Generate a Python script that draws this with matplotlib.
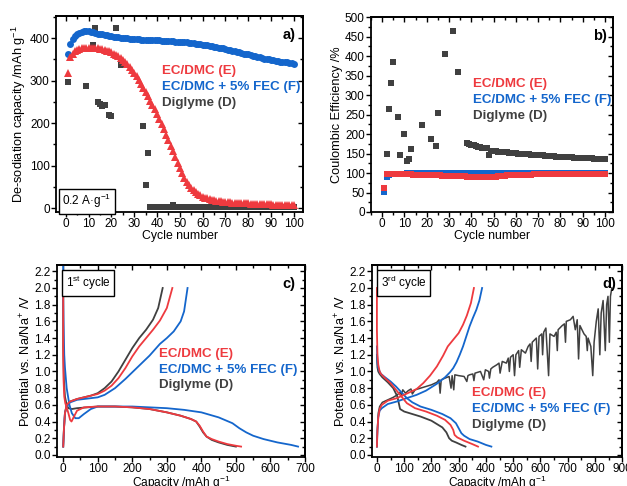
import numpy as np
import matplotlib
matplotlib.use("Agg")
import matplotlib.pyplot as plt
from matplotlib.ticker import MultipleLocator

plt.rcParams['font.family'] = ['Liberation Sans', 'DejaVu Sans']
plt.rcParams['mathtext.default'] = 'regular'

RED = '#ee3a3f'
BLUE = '#1466cc'
GREY = '#404040'

# ---- a) de-sodiation capacity vs cycle ----
cycles = list(range(1, 101))
cap_E = [319, 355, 364, 370, 373, 375, 376, 377, 378, 378,
         378, 378, 377, 376, 375, 374, 372, 371, 369, 367,
         364, 361, 358, 354, 349, 344, 339, 333, 326, 318,
         310, 301, 292, 283, 273, 263, 253, 243, 233, 222,
         210, 198, 186, 173, 160, 147, 134, 121, 107, 95,
         83, 72, 62, 54, 47, 42, 37, 33, 30, 27,
         25, 23, 21, 20, 19, 18, 17, 16, 15, 15,
         14, 14, 13, 13, 12, 12, 12, 11, 11, 11,
         10, 10, 10, 10, 10, 9, 9, 9, 9, 9,
         8, 8, 8, 8, 8, 8, 7, 7, 7, 7]
cap_F = [362, 387, 399, 406, 410, 413, 415, 416, 416, 416,
         415, 414, 413, 411, 410, 409, 408, 407, 406, 405,
         404, 403, 402, 401, 401, 400, 400, 399, 399, 398,
         398, 398, 397, 397, 397, 396, 396, 396, 395, 395,
         395, 394, 394, 394, 393, 393, 393, 392, 392, 391,
         391, 390, 390, 389, 389, 388, 387, 387, 386, 385,
         384, 383, 382, 381, 380, 379, 378, 377, 376, 375,
         373, 372, 371, 370, 368, 367, 366, 364, 363, 362,
         360, 359, 358, 356, 355, 354, 352, 351, 350, 349,
         348, 347, 346, 345, 344, 344, 343, 342, 341, 340]
cyc_D = [1, 9, 12, 13, 14, 15, 16, 17, 19, 20, 22, 24, 34, 35, 36,
         37, 38, 39, 40, 41, 42, 43, 44, 45, 46, 47, 48, 49, 50,
         51, 52, 53, 54, 55, 56, 57, 58, 59, 60, 61, 62, 63, 64, 65,
         66, 67, 68, 69, 70, 71, 72, 73, 74, 75, 76, 77, 78, 79, 80,
         81, 82, 83, 84, 85, 86, 87, 88, 89, 90, 91, 92, 93, 94, 95,
         96, 97, 98, 99, 100]
cap_D = [296, 287, 383, 423, 250, 245, 240, 242, 219, 216, 425, 337, 194, 54, 131,
         2, 2, 2, 2, 2, 2, 2, 2, 2, 2, 8, 2, 2, 2,
         2, 2, 2, 2, 2, 2, 2, 2, 2, 2, 2, 2, 2, 2, 2,
         2, 2, 2, 2, 2, 2, 2, 2, 2, 2, 2, 2, 2, 2, 2,
         2, 2, 2, 2, 2, 2, 2, 2, 2, 2, 2, 2, 2, 2, 2,
         2, 2, 2, 2, 2]

# ---- b) coulombic efficiency vs cycle ----
ce_E = [62, 97, 98, 98, 98, 98, 98, 98, 98, 97,
        97, 97, 97, 96, 96, 96, 96, 96, 95, 95,
        95, 95, 94, 94, 94, 94, 93, 93, 93, 93,
        93, 92, 92, 92, 92, 92, 92, 91, 91, 91,
        91, 91, 91, 91, 91, 91, 91, 91, 91, 91,
        91, 92, 92, 93, 93, 94, 94, 95, 95, 95,
        96, 96, 96, 96, 96, 96, 96, 97, 97, 97,
        97, 97, 97, 97, 97, 97, 97, 97, 97, 97,
        97, 97, 97, 97, 97, 97, 97, 97, 97, 97,
        97, 97, 97, 97, 97, 97, 97, 97, 97, 97]
ce_F = [52, 91, 95, 97, 97, 97, 98, 98, 98, 98,
        99, 99, 99, 99, 99, 99, 99, 99, 99, 99,
        99, 99, 99, 99, 99, 99, 99, 99, 99, 99,
        99, 99, 99, 99, 101, 99, 99, 99, 99, 99,
        99, 99, 99, 99, 99, 99, 99, 99, 99, 99,
        99, 99, 99, 99, 99, 99, 99, 99, 99, 99,
        99, 99, 99, 99, 99, 99, 99, 99, 99, 99,
        99, 99, 99, 99, 99, 99, 99, 99, 99, 99,
        99, 99, 99, 99, 99, 99, 99, 99, 99, 99,
        99, 99, 99, 99, 99, 99, 99, 99, 99, 99]
cyc_ce_D = [2, 3, 4, 5, 7, 8, 10, 11, 12, 13, 18, 22, 24, 25, 28, 32, 34,
            38, 39, 40, 41, 42, 43, 44, 45, 46, 47, 48, 49, 50,
            51, 52, 53, 54, 55, 56, 57, 58, 59, 60, 61, 62, 63, 64, 65,
            66, 67, 68, 69, 70, 71, 72, 73, 74, 75, 76, 77, 78, 79, 80,
            81, 82, 83, 84, 85, 86, 87, 88, 89, 90, 91, 92, 93, 94, 95,
            96, 97, 98, 99, 100]
ce_D = [148, 264, 331, 384, 243, 146, 200, 132, 136, 161, 223, 186, 170, 255, 405, 464, 360,
        176, 175, 173, 171, 170, 168, 166, 165, 164, 163, 147, 157, 157,
        156, 155, 155, 154, 153, 153, 152, 152, 151, 151, 150, 150, 149, 149, 148,
        148, 147, 147, 146, 146, 145, 145, 144, 144, 143, 143, 143, 142, 142, 141,
        141, 141, 140, 140, 140, 139, 139, 139, 139, 138, 138, 138, 138, 138, 137,
        137, 137, 137, 137, 137]

# ---- c) 1st cycle voltage profiles ----
c1_E_dis_x = [0, 0, 1, 3, 6, 10, 15, 20, 24, 30, 40, 60, 100, 150, 200, 250, 300, 340,
              370, 385, 395, 405, 415, 430, 450, 475, 500, 515]
c1_E_dis_y = [2.0, 1.2, 0.9, 0.7, 0.62, 0.57, 0.5, 0.42, 0.40, 0.45, 0.53, 0.57, 0.58,
              0.58, 0.57, 0.55, 0.51, 0.47, 0.43, 0.40, 0.35, 0.28, 0.22, 0.19, 0.16,
              0.13, 0.11, 0.10]
c1_E_ch_x = [0, 2, 5, 10, 20, 40, 60, 80, 100, 120, 140, 160, 180, 200, 220, 240, 260,
             280, 300, 316]
c1_E_ch_y = [0.1, 0.3, 0.5, 0.6, 0.64, 0.67, 0.69, 0.71, 0.73, 0.77, 0.83, 0.92, 1.04,
             1.18, 1.30, 1.40, 1.50, 1.61, 1.76, 2.0]
c1_F_dis_x = [0, 0, 1, 3, 5, 10, 18, 25, 35, 45, 60, 80, 100, 150, 200, 300, 350, 400,
              450, 490, 510, 530, 550, 580, 620, 660, 680]
c1_F_dis_y = [2.3, 1.9, 1.6, 1.2, 1.05, 0.8, 0.6, 0.5, 0.44, 0.44, 0.49, 0.55, 0.58,
              0.58, 0.58, 0.56, 0.54, 0.51, 0.45, 0.38, 0.32, 0.27, 0.23, 0.19, 0.15,
              0.12, 0.10]
c1_F_ch_x = [0, 2, 5, 10, 20, 40, 60, 80, 100, 120, 150, 180, 200, 220, 250, 280, 300,
             320, 340, 350, 360]
c1_F_ch_y = [0.1, 0.3, 0.5, 0.58, 0.63, 0.66, 0.67, 0.68, 0.69, 0.72, 0.8, 0.91, 0.99,
             1.07, 1.19, 1.33, 1.40, 1.48, 1.60, 1.72, 2.0]
c1_D_dis_x = [0, 0, 2, 5, 10, 15, 25, 40, 70, 100, 150, 200, 250, 300, 340, 370, 385,
              395, 405, 415, 430, 450, 475, 500]
c1_D_dis_y = [2.0, 1.3, 0.9, 0.7, 0.6, 0.56, 0.55, 0.56, 0.57, 0.58, 0.58, 0.57, 0.55,
              0.51, 0.47, 0.43, 0.40, 0.34, 0.27, 0.22, 0.18, 0.15, 0.12, 0.10]
c1_D_ch_x = [0, 2, 5, 10, 20, 40, 60, 80, 100, 120, 140, 160, 180, 200, 220, 240, 260,
             275, 288]
c1_D_ch_y = [0.1, 0.3, 0.5, 0.6, 0.64, 0.67, 0.69, 0.71, 0.74, 0.8, 0.88, 1.0, 1.14,
             1.28, 1.4, 1.5, 1.62, 1.76, 2.0]

# ---- d) 3rd cycle voltage profiles ----
c3_E_dis_x = [0, 0, 2, 5, 10, 15, 30, 50, 70, 90, 110, 140, 180, 220, 250, 270, 280,
              285, 295, 320, 350, 371]
c3_E_dis_y = [2.0, 1.5, 1.2, 1.08, 1.0, 0.97, 0.92, 0.86, 0.78, 0.7, 0.62, 0.56, 0.52,
              0.47, 0.42, 0.36, 0.30, 0.24, 0.21, 0.17, 0.13, 0.10]
c3_E_ch_x = [0, 2, 5, 10, 18, 40, 73, 100, 146, 170, 195, 220, 243, 260, 280, 300, 316,
             330, 345, 356]
c3_E_ch_y = [0.1, 0.3, 0.45, 0.55, 0.6, 0.65, 0.68, 0.72, 0.79, 0.86, 0.95, 1.06, 1.19,
             1.3, 1.38, 1.46, 1.56, 1.67, 1.82, 2.0]
c3_F_dis_x = [0, 2, 5, 10, 15, 30, 50, 70, 90, 110, 130, 160, 200, 240, 270, 290, 300,
              310, 320, 340, 370, 400, 420]
c3_F_dis_y = [1.3, 1.1, 1.04, 1.0, 0.97, 0.93, 0.88, 0.82, 0.75, 0.68, 0.63, 0.58, 0.54,
              0.49, 0.44, 0.38, 0.32, 0.26, 0.23, 0.19, 0.16, 0.12, 0.10]
c3_F_ch_x = [0, 2, 5, 10, 18, 40, 73, 100, 146, 180, 219, 250, 268, 280, 292, 304, 316,
             328, 340, 352, 365, 376, 386]
c3_F_ch_y = [0.1, 0.3, 0.45, 0.53, 0.56, 0.61, 0.64, 0.67, 0.72, 0.77, 0.85, 0.93, 0.99,
             1.04, 1.11, 1.2, 1.3, 1.42, 1.54, 1.64, 1.74, 1.85, 2.0]
c3_D_dis_x = [0, 2, 5, 10, 20, 40, 60, 75, 85, 100, 130, 160, 200, 240, 255, 265, 275,
              290, 310, 325]
c3_D_dis_y = [1.2, 1.05, 1.0, 0.97, 0.93, 0.87, 0.8, 0.7, 0.55, 0.52, 0.49, 0.46, 0.41,
              0.33, 0.27, 0.2, 0.17, 0.15, 0.12, 0.10]
# Diglyme charge in the 3rd cycle is very noisy: many sharp drops
c3_D_ch_x = [0, 2, 5, 10, 20, 40, 60, 75, 85, 90, 95, 105, 115, 125, 130, 140, 160, 180,
             200, 220, 228, 232, 236, 250, 265, 272, 276, 282, 286, 300, 320, 330, 334,
             340, 352, 356, 360, 380, 392, 398, 410, 413, 418, 425, 440, 448, 452, 460,
             475, 482, 486, 490, 500, 505, 510, 520, 524, 530, 545, 555, 562, 566, 570,
             585, 590, 595, 605, 608, 612, 620, 630, 635, 650, 658, 662, 665, 680, 688,
             692, 695, 710, 720, 728, 735, 740, 745, 760, 768, 772, 775, 785, 792, 797,
             805, 812, 818, 823, 830, 838, 843, 848, 853, 857, 862]
c3_D_ch_y = [0.1, 0.3, 0.5, 0.58, 0.63, 0.66, 0.69, 0.72, 0.75, 0.72, 0.78, 0.74, 0.77,
             0.79, 0.73, 0.78, 0.8, 0.82, 0.84, 0.87, 0.9, 0.74, 0.9, 0.92, 0.94, 0.8,
             0.95, 0.78, 0.96, 0.95, 0.94, 0.88, 0.95, 0.96, 0.97, 0.89, 0.98, 1.0, 0.9,
             1.02, 1.0, 0.92, 1.03, 1.05, 1.08, 1.1, 0.98, 1.12, 1.1, 1.16, 1.0, 1.17,
             1.2, 0.95, 1.2, 1.25, 1.05, 1.26, 1.22, 1.3, 1.33, 1.12, 1.35, 1.4, 1.03,
             1.42, 1.45, 1.2, 1.47, 1.52, 0.95, 1.45, 1.42, 1.47, 1.25, 1.5, 1.55, 1.57,
             1.35, 1.6, 1.62, 1.66, 1.5, 1.62, 1.15, 1.55, 1.45, 1.42, 1.25, 1.4, 1.3,
             0.95, 1.35, 1.6, 1.75, 1.2, 1.7, 1.85, 1.25, 1.8, 1.9, 1.35, 1.9, 2.0]

labels = ['EC/DMC (E)', 'EC/DMC + 5% FEC (F)', 'Diglyme (D)']
colors = [RED, BLUE, GREY]

fig = plt.figure(figsize=(6.27, 4.86), dpi=100)
ax_a = fig.add_axes([0.0893, 0.5638, 0.394, 0.403])
ax_b = fig.add_axes([0.5917, 0.5638, 0.386, 0.401])
ax_c = fig.add_axes([0.0909, 0.0605, 0.3955, 0.395])
ax_d = fig.add_axes([0.5933, 0.0605, 0.399, 0.395])


def style(ax, xmaj, ymaj):
    ax.xaxis.set_major_locator(MultipleLocator(xmaj))
    ax.xaxis.set_minor_locator(MultipleLocator(xmaj / 2))
    ax.yaxis.set_major_locator(MultipleLocator(ymaj))
    ax.yaxis.set_minor_locator(MultipleLocator(ymaj / 2))
    ax.tick_params(which='both', direction='out', top=False, right=False,
                   labelsize=8.5, width=1.0, pad=1)
    ax.tick_params(which='major', length=3.5)
    ax.tick_params(which='minor', length=2)
    for s in ax.spines.values():
        s.set_linewidth(1.3)
    sec = ax.secondary_xaxis('top')
    sec.tick_params(which='both', direction='in', labeltop=False, width=1.0)
    sec.tick_params(which='major', length=3.5)
    sec.tick_params(which='minor', length=2)
    sec.xaxis.set_major_locator(MultipleLocator(xmaj))
    sec.xaxis.set_minor_locator(MultipleLocator(xmaj / 2))
    sec.spines['top'].set_linewidth(1.3)
    sey = ax.secondary_yaxis('right')
    sey.tick_params(which='both', direction='in', labelright=False, width=1.0)
    sey.tick_params(which='major', length=3.5)
    sey.tick_params(which='minor', length=2)
    sey.yaxis.set_major_locator(MultipleLocator(ymaj))
    sey.yaxis.set_minor_locator(MultipleLocator(ymaj / 2))
    sey.spines['right'].set_linewidth(1.3)


def legend_text(ax, x, y, dy):
    for i, (lab, col) in enumerate(zip(labels, colors)):
        ax.text(x, y - i * dy, lab, color=col, fontsize=9.6, fontweight='bold',
                transform=ax.transAxes, va='center', ha='left')


# a)
ax = ax_a
ax.plot(cyc_D, cap_D, 's', color=GREY, ms=4.8, mew=0)
ax.plot(cycles, cap_F, 'o', color=BLUE, ms=5.0, mew=0)
ax.plot(cycles, cap_E, '^', color=RED, ms=5.4, mew=0)
ax.set_xlim(-4.3, 104)
ax.set_ylim(-9, 452)
style(ax, 10, 100)
ax.set_xlabel('Cycle number', fontsize=8.8, labelpad=0)
ax.set_ylabel('De-sodiation capacity /mAh g$^{-1}$', fontsize=9.2, labelpad=1)
legend_text(ax, 0.43, 0.72, 0.082)
ax.text(0.97, 0.905, 'a)', transform=ax.transAxes, fontsize=10.5, fontweight='bold',
        ha='right', va='center')
ax.text(0.025, 0.055, '0.2 A·g$^{-1}$', transform=ax.transAxes, fontsize=8.5,
        ha='left', va='center',
        bbox=dict(boxstyle='square,pad=0.3', fc='white', ec='black', lw=1.0))

# b)
ax = ax_b
ax.plot(cyc_ce_D, ce_D, 's', color=GREY, ms=4.8, mew=0)
ax.plot(cycles, ce_F, 's', color=BLUE, ms=5.0, mew=0)
ax.plot(cycles, ce_E, 's', color=RED, ms=5.0, mew=0)
ax.set_xlim(-5, 103.6)
ax.set_ylim(0, 500)
style(ax, 10, 50)
ax.set_xlabel('Cycle number', fontsize=8.8, labelpad=0)
ax.set_ylabel('Coulombic Efficiency /%', fontsize=9.2, labelpad=1)
legend_text(ax, 0.42, 0.655, 0.082)
ax.text(0.975, 0.905, 'b)', transform=ax.transAxes, fontsize=10.5, fontweight='bold',
        ha='right', va='center')

# c)
ax = ax_c
lw = 1.3
ax.plot(c1_D_dis_x, c1_D_dis_y, color=GREY, lw=lw)
ax.plot(c1_D_ch_x, c1_D_ch_y, color=GREY, lw=lw)
ax.plot(c1_F_dis_x, c1_F_dis_y, color=BLUE, lw=lw)
ax.plot(c1_F_ch_x, c1_F_ch_y, color=BLUE, lw=lw)
ax.plot(c1_E_dis_x, c1_E_dis_y, color=RED, lw=lw)
ax.plot(c1_E_ch_x, c1_E_ch_y, color=RED, lw=lw)
ax.set_xlim(-18, 700)
ax.set_ylim(-0.02, 2.28)
style(ax, 100, 0.2)
ax.set_xlabel('Capacity /mAh g$^{-1}$', fontsize=8.6, labelpad=-0.5)
ax.set_ylabel('Potential vs. Na/Na$^{+}$ /V', fontsize=9.2, labelpad=1)
legend_text(ax, 0.41, 0.535, 0.082)
ax.text(0.96, 0.9, 'c)', transform=ax.transAxes, fontsize=10.5, fontweight='bold',
        ha='right', va='center')
ax.text(0.035, 0.905, '1$^{st}$ cycle', transform=ax.transAxes, fontsize=8.5,
        ha='left', va='center',
        bbox=dict(boxstyle='square,pad=0.3', fc='white', ec='black', lw=1.0))

# d)
ax = ax_d
ax.plot(c3_D_dis_x, c3_D_dis_y, color=GREY, lw=lw)
ax.plot(c3_D_ch_x, c3_D_ch_y, color=GREY, lw=1.1)
ax.plot(c3_F_dis_x, c3_F_dis_y, color=BLUE, lw=lw)
ax.plot(c3_F_ch_x, c3_F_ch_y, color=BLUE, lw=lw)
ax.plot(c3_E_dis_x, c3_E_dis_y, color=RED, lw=lw)
ax.plot(c3_E_ch_x, c3_E_ch_y, color=RED, lw=lw)
ax.set_xlim(-18, 900)
ax.set_ylim(-0.02, 2.28)
style(ax, 100, 0.2)
ax.set_xlabel('Capacity /mAh g$^{-1}$', fontsize=8.6, labelpad=-0.5)
ax.set_ylabel('Potential vs. Na/Na$^{+}$ /V', fontsize=9.2, labelpad=1)
legend_text(ax, 0.40, 0.33, 0.082)
ax.text(0.975, 0.9, 'd)', transform=ax.transAxes, fontsize=10.5, fontweight='bold',
        ha='right', va='center')
ax.text(0.035, 0.905, '3$^{rd}$ cycle', transform=ax.transAxes, fontsize=8.5,
        ha='left', va='center',
        bbox=dict(boxstyle='square,pad=0.3', fc='white', ec='black', lw=1.0))

fig.savefig('out.png', dpi=100)
